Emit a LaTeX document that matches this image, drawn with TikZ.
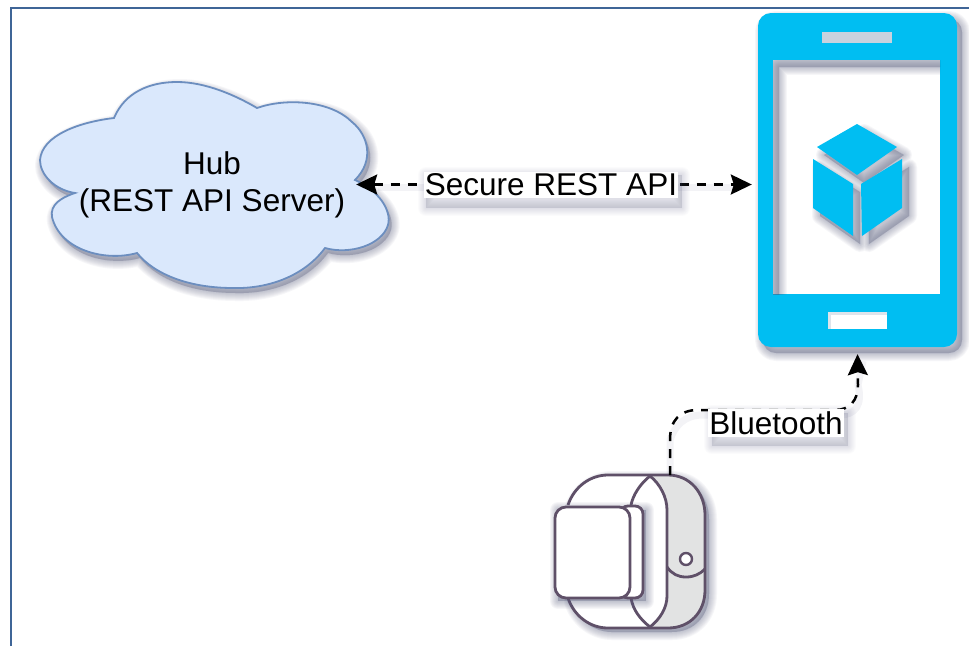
\documentclass[tikz,border=0pt]{standalone}
\usepackage{fontspec}
\setmainfont{Liberation Sans}
\usetikzlibrary{arrows.meta}
\definecolor{framecol}{HTML}{3F6597}
\definecolor{cloudfill}{HTML}{DAE8FC}
\definecolor{cloudline}{HTML}{6C8EBF}
\definecolor{phoneblue}{HTML}{00BEF2}
\definecolor{shadowcol}{HTML}{5A5F80}
\definecolor{watchline}{HTML}{5F5068}
\definecolor{strapgrey}{HTML}{E2E3E3}
\definecolor{speakercol}{HTML}{C9D2DE}
\newcommand{\shadeop}{.05}
\newcommand{\softshade}[2][{5,6}]{%
  \begin{scope}[shift={(#1)}]
    \foreach \wd in {16,14,12,10,8,6,4,2}{
      \path[fill=shadowcol,draw=shadowcol,line width=\wd pt,fill opacity=\shadeop,draw opacity=\shadeop,line join=round,even odd rule] #2;
    }
  \end{scope}}
\tikzset{
  x=1pt,y=-1pt,
  txt/.style={font=\fontsize{31.5}{37}\selectfont,text=black,inner sep=0pt,align=center},
  labelbox/.style={txt,fill=white,inner xsep=1pt,inner ysep=2pt},
  hubbox/.style={txt,minimum width=288pt,minimum height=80pt},
  phonebody/.style={fill=phoneblue,rounded corners=13pt,minimum width=199pt,minimum height=334pt,inner sep=0pt},
  conn/.style={dash pattern=on 9pt off 8pt,line width=2.5pt,draw=black},
  tipped/.style={-{Stealth[length=21pt,width=20pt,inset=3pt]}},
  watchstroke/.style={draw=watchline,line width=2.8pt,line join=round},
  watchface/.style={watchstroke,fill=white,rounded corners=11pt,minimum width=75pt,minimum height=91pt,inner sep=0pt},
}
\newcommand{\cloudpath}{(114,118) .. controls (125,92) and (150,82) .. (177,82) .. controls (205,82) and (235,95) .. (257,108) .. controls (285,98) and (330,100) .. (352,122) .. controls (368,135) and (375,160) .. (355,180) .. controls (378,190) and (392,210) .. (388,225) .. controls (382,245) and (350,255) .. (325,248) .. controls (305,275) and (270,289) .. (233,288) .. controls (190,288) and (155,275) .. (137,253) .. controls (105,262) and (60,250) .. (52,217) .. controls (50,205) and (60,198) .. (75,193) .. controls (55,190) and (40,175) .. (40,160) .. controls (42,135) and (80,122) .. (114,118) -- cycle}
\newcommand{\strappath}{(568,505) .. controls (574,487) and (590,475) .. (608,475) -- (668,475) .. controls (690,475) and (705,493) .. (705,515) -- (705,590) .. controls (705,612) and (690,628) .. (668,628) -- (608,628) .. controls (590,628) and (574,616) .. (568,598)}
\newcommand{\cubepath}{(817,147) -- (857,124) -- (897,147) -- (857,175) -- cycle (813,159) -- (853,184) -- (853,236) -- (813,208) -- cycle (861,184) -- (902,159) -- (902,208) -- (862,236) -- cycle}
\begin{document}
\begin{tikzpicture}
\useasboundingbox (0,0) rectangle (969,646);
\fill[white] (0,0) rectangle (969,646);
% frame
\draw[framecol,line width=1.8pt] (11,646) -- (11,8) -- (969,8);

% cloud
\softshade[{3,5}]{\cloudpath}
\draw[cloudline,fill=cloudfill,line width=1.8pt] \cloudpath;
\node[hubbox] (hub) at (212,184.5) {Hub\\(REST API Server)};

% phone
\softshade{(771,13) -- (944,13) arc (-90:0:13) -- (957,334) arc (0:90:13) -- (771,347) arc (90:180:13) -- (758,26) arc (180:270:13) -- cycle}
\node[phonebody] (phone) at (857.5,180) {};
\begin{scope}
  \clip (773,60) rectangle (940,294);
  \fill[white] (773,60) rectangle (940,294);
  \softshade[{6,7}]{(700,0) -- (1000,0) -- (1000,60) -- (773,60) -- (773,400) -- (700,400) -- cycle}
  \softshade[{7,8}]{\cubepath}
\end{scope}
\fill[speakercol] (822,32) rectangle (892,43);
\fill[white] (828,312) rectangle (887,329);
\fill[speakercol,opacity=.6] (828,312) rectangle (887,315);
\fill[speakercol,opacity=.6] (828,315) rectangle (831,329);
\begin{scope}[phoneblue]
  \fill (857,124) -- (897,147) -- (857,175) -- (817,147) -- cycle;
  \fill (813,159) -- (853,184) -- (853,236) -- (813,208) -- cycle;
  \fill (861,184) -- (902,159) -- (902,208) -- (862,236) -- cycle;
\end{scope}

% watch
\softshade[{4,4}]{\strappath -- cycle}
\fill[white] \strappath -- cycle;
\fill[strapgrey] (650,476) .. controls (660,484) and (667,497) .. (667,510) -- (667,596) .. controls (667,608) and (660,619) .. (650,627) -- (668,628) .. controls (690,628) and (705,612) .. (705,590) -- (705,515) .. controls (705,493) and (690,475) .. (668,475) -- cycle;
\draw[watchstroke] \strappath;
\draw[watchstroke] (650,476) .. controls (660,484) and (667,497) .. (667,510) -- (667,596) .. controls (667,608) and (660,619) .. (650,627);
\draw[watchstroke] (650,476) .. controls (640,484) and (633,495) .. (631,505);
\draw[watchstroke] (631,598) .. controls (633,610) and (640,619) .. (650,627);
\draw[watchstroke] (667,567) .. controls (672,574) and (678,577) .. (686,577) .. controls (694,577) and (700,574) .. (705,569);
\draw[watchstroke,line width=2.4pt,fill=white] (686,559) circle (6pt);
\softshade[{3,3}]{(555,507) rectangle (643,598)}
\draw[watchstroke,fill=white,rounded corners=8pt] (620,506) rectangle (643,598);
\node[watchface] (watch) at (592.5,552.5) {};
\coordinate (band) at (670,475);
\coordinate (btA) at (670,440);
\coordinate (btB) at (858,385);

% connector shadows
\draw[shadowcol,opacity=.07,line width=7pt,shift={(5,5)}] (band) -- (btA) .. controls (670,420) and (680,410) .. (698,410) -- (835,410) .. controls (850,410) and (858,400) .. (btB) -- (858,356);
\draw[shadowcol,opacity=.07,line width=7pt,shift={(3,5)}] (375,182) -- (735,182);

% connectors
\draw[conn,{Stealth[length=21pt,width=20pt,inset=3pt]}-{Stealth[length=21pt,width=20pt,inset=3pt]}] (hub.east) -- ([xshift=-6pt]phone.west |- hub.east) coordinate (phoneIn);
\draw[conn,tipped] (band) -- (btA) .. controls (670,420) and (680,410) .. (698,410) -- (835,410) .. controls (850,410) and (858,400) .. (btB) -- ([yshift=-7pt]phone.south);

% labels
\renewcommand{\shadeop}{.025}
\softshade[{3,4}]{(423,171) rectangle (679,204)}
\softshade[{3,4}]{(709,409) rectangle (845,442)}
\node[labelbox] (rest) at (551,185) {Secure REST API};
\node[labelbox] (bt) at (776,423) {Bluetooth};
\end{tikzpicture}
\end{document}
